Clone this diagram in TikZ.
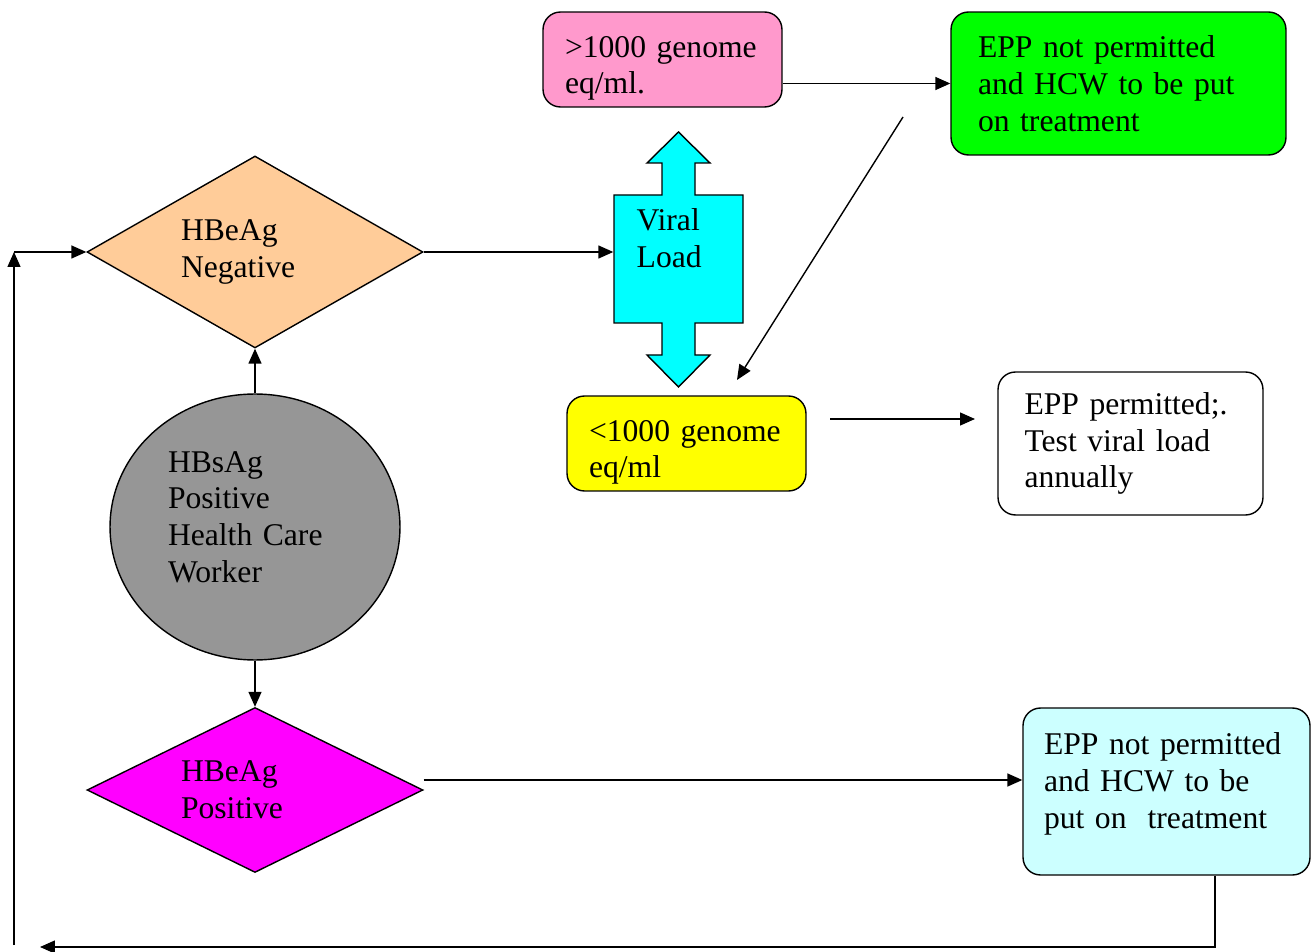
\documentclass[tikz,border=0pt]{standalone}
\usepackage{fontspec}
\setmainfont{Liberation Serif}
\usetikzlibrary{arrows.meta,shapes.geometric}
\definecolor{pinkbox}{HTML}{FF99CC}
\definecolor{greenbox}{HTML}{00FF00}
\definecolor{peach}{HTML}{FFCC99}
\definecolor{vlcyan}{HTML}{00FFFF}
\definecolor{yellowbox}{HTML}{FFFF00}
\definecolor{grayball}{HTML}{969696}
\definecolor{magentadia}{HTML}{FF00FF}
\definecolor{paleblue}{HTML}{CCFFFF}

\begin{document}
\begin{tikzpicture}
[x=0.02cm,y=-0.02cm,>={Triangle[length=0.3cm,width=0.26cm]},line width=0.8pt,
 font=\fontsize{18}{21}\selectfont,
 box/.style={draw,rounded corners=0.35cm,align=left,inner ysep=0pt},
 dia/.style={draw,diamond,aspect=1.75,align=left,text width=2.96cm,inner sep=0pt,minimum width=6.72cm,minimum height=3.84cm},
 txt/.style={align=left,inner sep=0pt}]
\useasboundingbox (0,0) rectangle (1312,952);

% top row
\node[box,fill=pinkbox,text width=3.9cm,inner xsep=0.44cm,minimum height=1.9cm] (hi) at (662.5,59.5) {\rule{0pt}{22pt}>1000 genome\\eq/ml.};
\node[box,fill=greenbox,text width=5.62cm,inner xsep=0.54cm,minimum height=2.86cm] (epp1) at (1118.5,83.5) {EPP not permitted\\and HCW to be put\\on treatment};

% negative branch
\node[dia,fill=peach] (hbneg) at (255,252) {HBeAg\\Negative};
\draw[fill=vlcyan] (614,195) -- (662,195) -- (662,163) -- (647,163) -- (678.5,132) -- (710,163) -- (695,163) -- (695,195)
  -- (743,195) -- (743,323) -- (695,323) -- (695,355) -- (710,355) -- (678.5,387) -- (647,355) -- (662,355) -- (662,323)
  -- (614,323) -- cycle;
\node[minimum width=2.58cm,minimum height=2.56cm,inner sep=0pt] (vl) at (678.5,259) {};
\node[txt,anchor=north west] at (636,208) {Viral\\Load};

\node[box,fill=yellowbox,text width=3.9cm,inner xsep=0.44cm,minimum height=1.9cm] (lo) at (686.5,443.5) {\rule{0pt}{22pt}<1000 genome\\eq/ml};
\node[box,fill=white,text width=4.24cm,inner xsep=0.53cm,minimum height=2.86cm] (epp2) at (1130.5,443.5) {EPP permitted;.\\Test viral load\\annually};

% worker
\node[draw,ellipse,fill=grayball,align=left,text width=3.48cm,inner sep=0pt,minimum width=5.8cm,minimum height=5.32cm] (hcw) at (255,527) {HBsAg\\Positive\\Health Care\\Worker\rule[-11.4pt]{0pt}{11.4pt}};

% positive branch
\node[dia,fill=magentadia,minimum height=3.3cm] (hbpos) at (255,790) {HBeAg\\Positive};
\node[box,fill=paleblue,text width=4.9cm,inner xsep=0.42cm,minimum height=3.34cm] (epp3) at (1166.5,791.5) {EPP not permitted\\and HCW to be\\put on~ treatment\\[-8.5pt]\mbox{}};

\coordinate (dgA) at (903,117);
\coordinate (dgB) at (737,380);
\coordinate (loA) at (830,419);
\coordinate (loB) at (975,419);
\coordinate (lpR) at (1215,947);
\coordinate (lpL) at (40,947);
\coordinate (lpB) at (14,945);
\coordinate (lpT) at (14,252);

\draw[->] (hi.east |- epp1.west) -- (epp1.west);
\draw[->] (hbneg.east) -- (hbneg.east -| vl.west);
\draw[->] (dgA) -- (dgB);
\draw[->] (loA) -- (loB);
\draw[->] (hcw.north) -- (hbneg.south);
\draw[->] (hcw.south) -- (hbpos.north);
\draw[->] ([yshift=0.2cm]hbpos.east) -- ([yshift=0.2cm]hbpos.east -| epp3.west);
\draw[->] (lpR |- epp3.south) -- (lpR) -- (lpL);
\draw[->] (lpB) -- (lpT);
\draw[->] (lpT) -- (hbneg.west);
\end{tikzpicture}
\end{document}
